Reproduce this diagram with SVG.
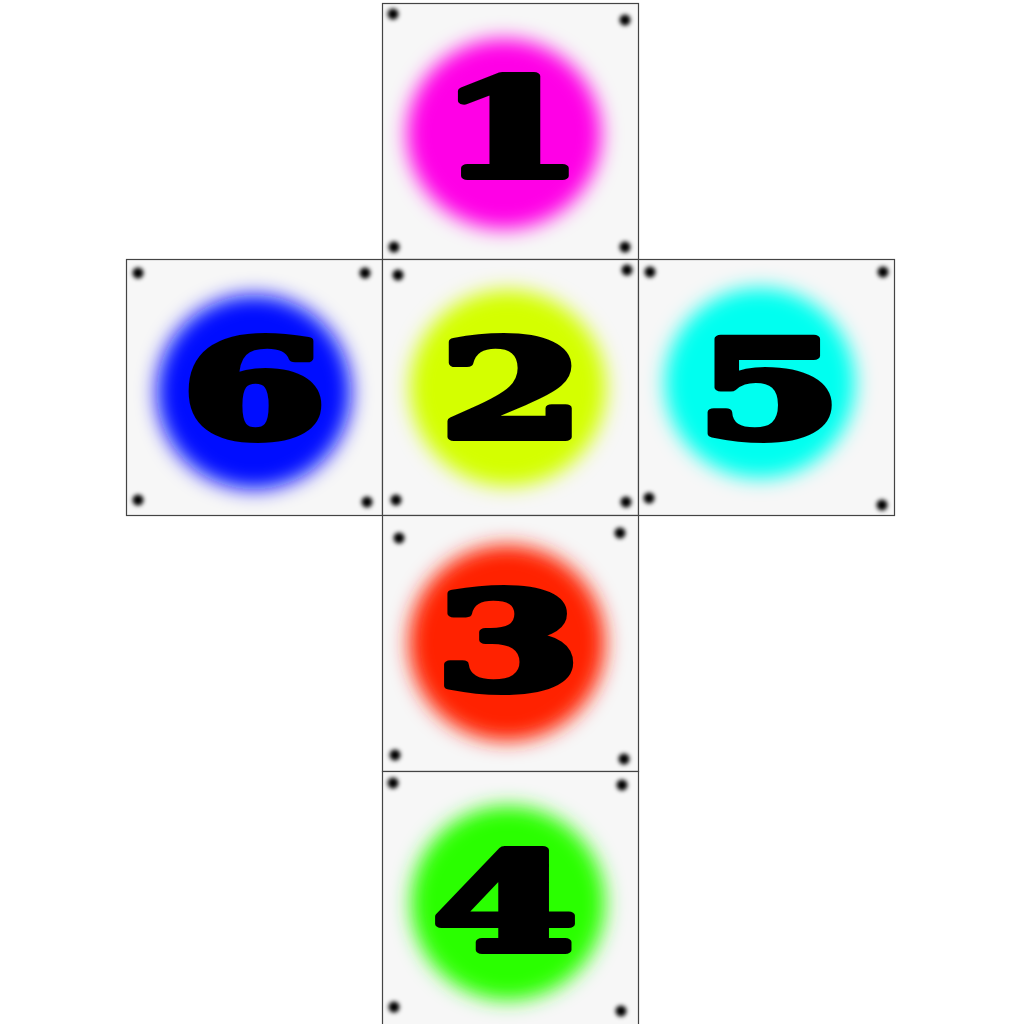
<svg xmlns="http://www.w3.org/2000/svg" width="1024" height="1024" viewBox="0 0 1024 1024">
<style>
.face{fill:#f7f7f7;stroke:#444;stroke-width:1.2}
.glow{filter:url(#blur)}
.dot{fill:#000;filter:url(#dblur)}
.num{font-family:"DejaVu Serif",serif;font-weight:bold;font-size:134px;fill:#000;stroke:#000;stroke-width:8;stroke-linejoin:round;text-anchor:middle}
</style>
<defs>
<filter id="blur" x="-30%" y="-30%" width="160%" height="160%"><feGaussianBlur stdDeviation="10"/></filter>
<filter id="dblur" x="-100%" y="-100%" width="300%" height="300%"><feGaussianBlur stdDeviation="2.2"/></filter>
</defs>
<rect width="1024" height="1024" fill="#fff"/>
<g id="face1">
<rect class="face" x="382.5" y="3.5" width="256" height="256"/>
<ellipse class="glow" cx="504" cy="134" rx="97" ry="95" fill="#ff00e6"/>
<circle class="dot" cx="393" cy="14" r="5.5"/><circle class="dot" cx="625" cy="20" r="5.5"/><circle class="dot" cx="394" cy="247" r="5.5"/><circle class="dot" cx="625" cy="247" r="5.5"/>
<text class="num" transform="translate(511,176) scale(1.55,1)">1</text>
</g>
<g id="face6">
<rect class="face" x="126.5" y="259.5" width="256" height="256"/>
<circle class="glow" cx="254" cy="392" r="97" fill="#0010ff"/>
<circle class="dot" cx="138" cy="273" r="5.5"/><circle class="dot" cx="365" cy="273" r="5.5"/><circle class="dot" cx="138" cy="500" r="5.5"/><circle class="dot" cx="367" cy="502" r="5.5"/>
<text class="num" transform="translate(254,437) scale(1.55,1)">6</text>
</g>
<g id="face2">
<rect class="face" x="382.5" y="259.5" width="256" height="256"/>
<circle class="glow" cx="508" cy="388" r="98" fill="#d4ff00"/>
<circle class="dot" cx="398" cy="275" r="5.5"/><circle class="dot" cx="627" cy="270" r="5.5"/><circle class="dot" cx="396" cy="500" r="5.5"/><circle class="dot" cx="626" cy="502" r="5.5"/>
<text class="num" transform="translate(512,437) scale(1.55,1)">2</text>
</g>
<g id="face5">
<rect class="face" x="638.5" y="259.5" width="256" height="256"/>
<circle class="glow" cx="760" cy="383" r="95" fill="#00fff0"/>
<circle class="dot" cx="650" cy="272" r="5.5"/><circle class="dot" cx="883" cy="272" r="5.5"/><circle class="dot" cx="649" cy="498" r="5.5"/><circle class="dot" cx="882" cy="505" r="5.5"/>
<text class="num" transform="translate(769,437) scale(1.55,1)">5</text>
</g>
<g id="face3">
<rect class="face" x="382.5" y="515.5" width="256" height="256"/>
<circle class="glow" cx="507" cy="643" r="98" fill="#ff2000"/>
<circle class="dot" cx="399" cy="538" r="5.5"/><circle class="dot" cx="620" cy="533" r="5.5"/><circle class="dot" cx="395" cy="755" r="5.5"/><circle class="dot" cx="624" cy="759" r="5.5"/>
<text class="num" transform="translate(508,689) scale(1.55,1)">3</text>
</g>
<g id="face4">
<rect class="face" x="382.5" y="771.5" width="256" height="256"/>
<circle class="glow" cx="508" cy="903" r="97" fill="#2aff00"/>
<circle class="dot" cx="393" cy="783" r="5.5"/><circle class="dot" cx="622" cy="785" r="5.5"/><circle class="dot" cx="394" cy="1007" r="5.5"/><circle class="dot" cx="621" cy="1011" r="5.5"/>
<text class="num" transform="translate(505,950) scale(1.55,1)">4</text>
</g>
<g id="connectors"></g>
</svg>
